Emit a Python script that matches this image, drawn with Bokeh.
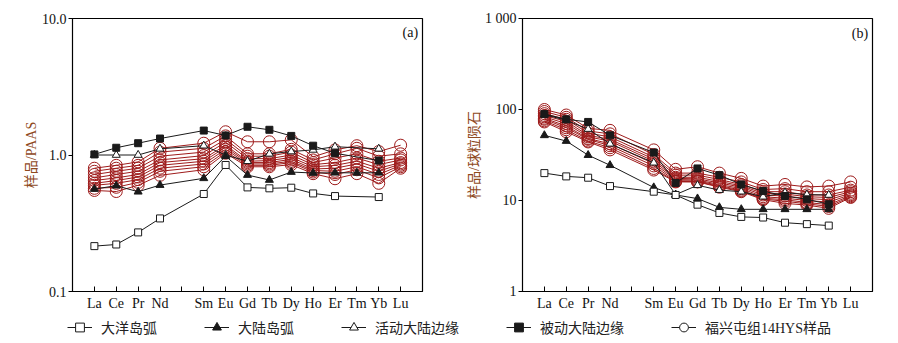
from bokeh.plotting import figure
from bokeh.models import FixedTicker, Range1d, Legend, LegendItem, Label, ColumnDataSource
from bokeh.layouts import column, row
from bokeh.embed import file_html
from bokeh.resources import INLINE

# ---------------- data ----------------
tick_labels = ["La", "Ce", "Pr", "Nd", "", "Sm", "Eu", "Gd", "Tb", "Dy", "Ho", "Er", "Tm", "Yb", "Lu"]
ree = ["La", "Ce", "Pr", "Nd", "Sm", "Eu", "Gd", "Tb", "Dy", "Ho", "Er", "Tm", "Yb", "Lu"]
ree_pos = [0, 1, 2, 3, 5, 6, 7, 8, 9, 10, 11, 12, 13, 14]

# (a) PAAS-normalised reference series
a_ocean = [0.215, 0.221, 0.271, 0.343, 0.518, 0.845, 0.579, 0.570, 0.576, 0.523, 0.500, None, 0.492, None]
a_cont_arc = [0.563, 0.596, 0.538, 0.602, 0.675, 0.98, 0.713, 0.656, 0.750, 0.738, 0.741, 0.74, 0.741, None]
a_active = [1.0, 1.0, 1.0, 1.11, 1.17, 1.0, 0.90, 1.02, 1.06, 1.09, 1.15, None, 1.11, None]
a_passive = [1.01, 1.13, 1.22, 1.32, 1.51, 1.39, 1.61, 1.53, 1.38, 1.17, 1.03, None, 0.91, None]

# (a) Fuxingtun 14HYS samples / PAAS
a_samples = [
    [0.80, 0.84, 0.89, 1.12, 1.22, 1.48, 1.25, 1.25, 1.29, 0.97, 1.09, 1.17, 1.06, 1.18],
    [0.76, 0.80, 0.84, 1.05, 1.12, 1.38, 1.02, 1.02, 1.10, 0.92, 1.02, 1.12, 0.98, 1.02],
    [0.72, 0.76, 0.80, 0.98, 1.05, 1.30, 0.98, 0.98, 1.05, 0.88, 0.95, 1.02, 0.90, 0.95],
    [0.68, 0.72, 0.76, 0.92, 0.99, 1.24, 0.94, 0.94, 1.00, 0.85, 0.88, 0.95, 0.85, 0.92],
    [0.65, 0.68, 0.72, 0.88, 0.94, 1.18, 0.90, 0.91, 0.96, 0.82, 0.84, 0.90, 0.80, 0.88],
    [0.62, 0.65, 0.69, 0.84, 0.90, 1.14, 0.88, 0.88, 0.93, 0.79, 0.80, 0.86, 0.76, 0.86],
    [0.60, 0.62, 0.66, 0.80, 0.86, 1.10, 0.86, 0.86, 0.90, 0.77, 0.76, 0.82, 0.72, 0.84],
    [0.57, 0.58, 0.63, 0.76, 0.82, 1.06, 0.84, 0.84, 0.88, 0.75, 0.72, 0.78, 0.68, 0.82],
    [0.55, 0.54, 0.60, 0.71, 0.78, 1.03, 0.82, 0.82, 0.85, 0.73, 0.67, 0.73, 0.62, 0.80],
]

# (b) chondrite-normalised reference series
b_ocean = [20, 18.4, 17.8, 14.4, 12.5, 11.5, 9.0, 7.3, 6.6, 6.5, 5.7, 5.5, 5.3, None]
b_cont_arc = [52, 45, 31.5, 24.4, 13.9, 11.5, 10.5, 8.4, 8.0, 8.0, 8.0, 8.0, 8.0, None]
b_active = [88, 76, 61, 42, 26, 11.6, 14.7, 13, 12.5, 11, 12.2, 11.6, 11.5, None]
b_passive = [89, 78, 73, 52, 33.6, 15.6, 22.5, 19, 15, 12.7, 11.2, 10.3, 9.1, None]

# (b) Fuxingtun 14HYS samples / chondrite
b_samples = [
    [100, 87, 62, 59, 36, 22, 23.5, 20, 17.5, 14.4, 15, 14.1, 14.4, 16],
    [95, 82, 58, 54, 32, 20, 20, 18, 16, 13.2, 13.5, 12.5, 12.5, 14],
    [90, 78, 55, 50, 30, 19, 19, 17, 15, 12.5, 12.5, 11.5, 11.5, 13],
    [86, 74, 52, 47, 28.5, 18, 18, 16.2, 14.5, 12, 11.8, 11, 10.8, 12.5],
    [83, 70, 50, 45, 27, 17.5, 17.3, 15.6, 14, 11.5, 11.2, 10.5, 10.2, 12],
    [80, 66, 48, 42, 25.5, 17, 16.8, 15, 13.5, 11, 10.6, 10, 9.6, 11.6],
    [78, 63, 47, 40, 24, 16.5, 16.4, 14.6, 13, 10.6, 10.2, 9.5, 9.0, 11.3],
    [75, 60, 45, 38, 22.5, 16.2, 16.1, 14.3, 12.7, 10.4, 9.8, 9.2, 8.6, 11],
    [73, 57, 44, 36, 21.6, 16, 16, 14, 12.5, 10.2, 9.3, 8.9, 8.2, 10.8],
]

legend_labels = ["大洋岛弧", "大陆岛弧", "活动大陆边缘", "被动大陆边缘", "福兴屯组14HYS样品"]

# ---------------- style ----------------
FONT = "Liberation Serif, Noto Sans CJK SC"
RED = "#9e1b1b"
BLACK = "#1a1a1a"
LABEL_BROWN = "#8f4a1e"


def pts(vals):
    xs, ys = [], []
    for x, v in zip(ree_pos, vals):
        if v is not None:
            xs.append(x)
            ys.append(v)
    return ColumnDataSource(dict(x=xs, y=ys))


def make_panel(y_lo, y_hi, yticks, ylabel_over, ylabel, border_left, border_right,
               samples, ocean, cont_arc, active, passive, tag, tag_y):
    p = figure(width=border_left + 350 + border_right, height=313,
               x_range=Range1d(-1, 15), y_range=Range1d(y_lo, y_hi),
               y_axis_type="log", output_backend="svg", toolbar_location=None,
               min_border_left=border_left, min_border_right=border_right,
               min_border_top=18, min_border_bottom=22)
    p.grid.visible = False
    p.outline_line_color = "black"
    p.outline_line_width = 1.2

    xa = p.xaxis[0]
    xa.ticker = FixedTicker(ticks=list(range(15)))
    xa.major_label_overrides = {i: t for i, t in enumerate(tick_labels)}
    xa.major_tick_in = 5
    xa.major_tick_out = 0
    xa.minor_tick_line_color = None
    xa.major_label_standoff = 4

    ya = p.yaxis[0]
    ya.ticker = FixedTicker(ticks=yticks, minor_ticks=[])
    ya.major_label_overrides = ylabel_over
    ya.major_tick_in = 0
    ya.major_tick_out = 4
    ya.minor_tick_line_color = None
    ya.major_label_standoff = 2
    ya.axis_label = ylabel
    ya.axis_label_text_color = LABEL_BROWN
    ya.axis_label_text_font = FONT
    ya.axis_label_text_font_style = "normal"
    ya.axis_label_text_font_size = "14px"
    ya.axis_label_standoff = 0

    for ax in (xa, ya):
        ax.axis_line_color = "black"
        ax.major_tick_line_color = "black"
        ax.major_label_text_font = FONT
        ax.major_label_text_font_size = "14px"
        ax.major_label_text_color = "#111111"

    for s in samples:
        src = pts(s)
        p.line("x", "y", source=src, line_color=RED, line_width=1)
        p.scatter("x", "y", source=src, marker="circle", size=12, fill_color=None,
                  line_color=RED, line_width=1)

    series = [
        (active, "triangle", "white", 8),
        (passive, "square", BLACK, 7),
        (cont_arc, "triangle", BLACK, 8),
        (ocean, "square", "white", 7),
    ]
    for vals, mk, fill, sz in series:
        src = pts(vals)
        p.line("x", "y", source=src, line_color=BLACK, line_width=1)
        p.scatter("x", "y", source=src, marker=mk, size=sz, fill_color=fill,
                  line_color=BLACK, line_width=1)

    p.add_layout(Label(x=14.8, y=tag_y, text=tag, text_align="right",
                       text_baseline="middle", text_font=FONT,
                       text_font_size="14px", text_color="#111111"))
    return p


pa = make_panel(0.1, 10, [0.1, 1, 10], {0.1: "0.1", 1: "1.0", 10: "10.0"},
                "样品/PAAS", 72, 27, a_samples, a_ocean, a_cont_arc, a_active,
                a_passive, "(a)", 7.9)
pb = make_panel(1, 1000, [1, 10, 100, 1000], {1: "1", 10: "10", 100: "100", 1000: "1 000"},
                "样品/球粒陨石", 73, 24, b_samples, b_ocean, b_cont_arc, b_active,
                b_passive, "(b)", 690)

# ---------------- legend strip ----------------
leg = figure(width=896, height=28, x_range=Range1d(0, 1), y_range=Range1d(0, 1),
             output_backend="svg", toolbar_location=None,
             min_border=0, min_border_left=0, min_border_right=0,
             min_border_top=0, min_border_bottom=0)
leg.axis.visible = False
leg.grid.visible = False
leg.outline_line_color = None

leg_specs = [("square", "white"), ("triangle", BLACK), ("triangle", "white"),
             ("square", BLACK), ("circle", "white")]
items = []
nan = float("nan")
for (mk, fill), lab in zip(leg_specs, legend_labels):
    blank = ColumnDataSource(dict(x=[nan], y=[nan]))
    r1 = leg.line("x", "y", source=blank, line_color=BLACK, line_width=1)
    r2 = leg.scatter("x", "y", source=blank, marker=mk, size=8, fill_color=fill,
                     line_color=BLACK, line_width=1)
    items.append(LegendItem(label=lab, renderers=[r1, r2]))

legend = Legend(items=items, orientation="horizontal", location=(67, 3),
                glyph_width=25, glyph_height=22, label_standoff=9, spacing=47,
                padding=0, margin=0, border_line_color=None,
                background_fill_alpha=0, label_text_font=FONT,
                label_text_font_size="14px", label_text_color="#222222")
leg.add_layout(legend, "center")

layout = column(row(pa, pb), leg)

open("out.html", "w").write(file_html(layout, INLINE))
